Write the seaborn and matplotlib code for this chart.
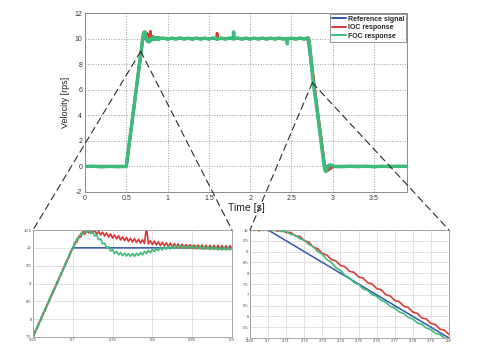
import numpy as np
import pandas as pd
import matplotlib
matplotlib.use("Agg")
import matplotlib.pyplot as plt
from matplotlib.patches import ConnectionPatch
from matplotlib.ticker import FuncFormatter, MultipleLocator
import seaborn as sns

# ---------------------------------------------------------------- data
# Velocity reference profile (rps)
ref_time = [0.0, 0.5, 0.7, 2.7, 2.9, 3.9]
ref_vel = [0.0, 0.0, 10.0, 10.0, 0.0, 0.0]

# Standstill and start of acceleration
pre_time = [0.0, 0.1, 0.2, 0.3, 0.4, 0.5, 0.55, 0.6]
ioc_pre = [0.01, -0.02, 0.03, -0.01, 0.02, 0.0, 2.45, 4.95]
foc_pre = [0.0, 0.02, -0.03, 0.01, -0.02, 0.0, 2.52, 5.02]

# End of acceleration and overshoot, sampled every 2.5 ms from 0.65 s
rise_t0, rise_dt = 0.65, 0.0025
ioc_rise = [7.47, 7.66, 7.73, 7.91, 7.98, 8.16, 8.23, 8.41, 8.48, 8.66, 8.73,
            8.91, 8.98, 9.16, 9.23, 9.41, 9.48, 9.66, 9.73, 9.91, 9.98,
            10.15, 10.15, 10.33, 10.30, 10.45, 10.38, 10.50, 10.42, 10.52, 10.41,
            10.50, 10.38, 10.47, 10.36, 10.44, 10.33, 10.42, 10.30, 10.39, 10.27,
            10.36, 10.25, 10.34, 10.22, 10.31, 10.20, 10.29, 10.18, 10.27, 10.16,
            10.26, 10.15, 10.24, 10.13, 10.23, 10.12, 10.58, 10.11, 10.20, 10.09,
            10.19, 10.08, 10.17, 10.06, 10.16, 10.05, 10.14, 10.03, 10.13, 10.02,
            10.12, 10.01, 10.11, 10.00, 10.10, 10.00, 10.09, 9.99, 10.09, 9.99,
            10.08, 9.98, 10.08, 9.98, 10.08, 9.97, 10.07, 9.97, 10.07, 9.97,
            10.07, 9.97, 10.07, 9.96, 10.06, 9.96, 10.06, 9.96, 10.06, 9.98]
foc_rise = [7.53, 7.60, 7.80, 7.85, 8.05, 8.10, 8.30, 8.35, 8.55, 8.60, 8.80,
            8.85, 9.05, 9.10, 9.30, 9.35, 9.55, 9.60, 9.80, 9.85, 10.03,
            10.08, 10.26, 10.26, 10.41, 10.38, 10.49, 10.43, 10.50, 10.40, 10.45,
            10.33, 10.36, 10.23, 10.25, 10.11, 10.13, 10.00, 10.03, 9.91, 9.95,
            9.84, 9.90, 9.80, 9.87, 9.78, 9.85, 9.77, 9.84, 9.76, 9.84,
            9.76, 9.85, 9.78, 9.87, 9.80, 9.90, 9.84, 9.93, 9.86, 9.96,
            9.89, 9.98, 9.92, 10.01, 9.94, 10.03, 9.96, 10.04, 9.97, 10.06,
            9.98, 10.07, 9.99, 10.07, 9.99, 10.07, 9.98, 10.06, 9.98, 10.06,
            9.97, 10.05, 9.97, 10.04, 9.96, 10.04, 9.96, 10.03, 9.95, 10.03,
            9.95, 10.02, 9.94, 10.02, 9.94, 10.02, 9.94, 10.02, 9.94, 10.00]

# Constant-speed plateau
plateau_time = [0.95, 1.0, 1.05, 1.1, 1.15, 1.2, 1.25, 1.3, 1.35, 1.4, 1.45,
                1.5, 1.55, 1.595, 1.6, 1.605, 1.65, 1.7, 1.75, 1.795, 1.8,
                1.805, 1.85, 1.9, 1.95, 2.0, 2.05, 2.1, 2.15, 2.2, 2.25,
                2.3, 2.35, 2.4, 2.445, 2.45, 2.455, 2.5, 2.55, 2.6, 2.65]
ioc_plateau = [10.02, 9.98, 10.03, 9.97, 10.02, 9.98, 10.03, 9.97, 10.02, 9.98, 10.03,
               9.97, 10.02, 10.0, 10.42, 10.0, 10.02, 9.98, 10.03, 9.99, 10.02,
               9.98, 10.03, 9.97, 10.02, 9.98, 10.03, 9.97, 10.02, 9.98, 10.03,
               9.97, 10.02, 9.98, 10.01, 9.99, 10.0, 10.03, 9.97, 10.02, 9.98]
foc_plateau = [10.05, 9.94, 10.04, 9.95, 10.06, 9.96, 10.03, 9.94, 10.05, 9.95, 10.04,
               9.96, 10.05, 9.97, 10.02, 9.96, 10.04, 9.95, 10.05, 9.98, 10.52,
               9.99, 10.04, 9.95, 10.05, 9.94, 10.04, 9.96, 10.05, 9.95, 10.04,
               9.96, 10.05, 9.95, 10.0, 9.6, 9.98, 10.04, 9.95, 10.05, 9.96]

# Start of deceleration, sampled every 2.5 ms from 2.69 s
fall_t0, fall_dt = 2.69, 0.0025
ioc_fall = [9.96, 10.04, 9.96, 10.04, 9.97, 10.03, 9.95, 10.00, 9.88, 9.89,
            9.73, 9.70, 9.51, 9.44, 9.21, 9.13, 8.91, 8.84, 8.63, 8.57,
            8.36, 8.30, 8.09, 8.04, 7.83, 7.77, 7.56, 7.50, 7.29, 7.23,
            7.01, 6.95, 6.74, 6.68, 6.47, 6.41, 6.20, 6.14, 5.93, 5.88,
            5.67, 5.62, 5.41, 5.36, 5.16]
foc_fall = [10.03, 9.98, 10.03, 9.98, 10.02, 9.97, 10.02, 9.93, 9.93, 9.80,
            9.76, 9.60, 9.53, 9.33, 9.23, 9.00, 8.88, 8.63, 8.50, 8.26,
            8.13, 7.90, 7.78, 7.57, 7.48, 7.28, 7.20, 7.01, 6.93, 6.74,
            6.66, 6.47, 6.39, 6.21, 6.13, 5.95, 5.88, 5.70, 5.63, 5.46,
            5.39, 5.22, 5.16, 4.99, 4.96]

# End of deceleration, undershoot and standstill
post_time = [2.82, 2.84, 2.86, 2.88, 2.90, 2.91, 2.92, 2.93, 2.94, 2.95, 2.97,
             3.0, 3.03, 3.1, 3.2, 3.3, 3.4, 3.5, 3.6, 3.7, 3.8, 3.9]
ioc_post = [4.2, 3.2, 2.2, 1.2, 0.25, -0.1, -0.25, -0.3, -0.3, -0.28, -0.18,
            -0.05, 0.0, 0.02, -0.01, 0.02, -0.02, 0.01, -0.01, 0.02, -0.01, 0.0]
foc_post = [3.92, 2.9, 1.92, 0.9, -0.1, -0.35, -0.4, -0.25, -0.05, 0.08, 0.12,
            0.05, 0.0, -0.02, 0.02, -0.01, 0.02, -0.02, 0.01, -0.01, 0.02, 0.0]

labels = ["Reference signal", "IOC response", "FOC response"]
colors = {"Reference signal": "#3556b0", "IOC response": "#db3a34",
          "FOC response": "#3dbb7a"}

# ------------------------------------------------------- assemble frames
rise_time = rise_t0 + rise_dt * np.arange(len(ioc_rise))
fall_time = fall_t0 + fall_dt * np.arange(len(ioc_fall))
resp_time = np.concatenate([pre_time, rise_time, plateau_time, fall_time, post_time])
ioc_vel = np.concatenate([ioc_pre, ioc_rise, ioc_plateau, ioc_fall, ioc_post])
foc_vel = np.concatenate([foc_pre, foc_rise, foc_plateau, foc_fall, foc_post])

df = pd.concat([
    pd.DataFrame({"Time": ref_time, "Velocity": ref_vel, "Signal": labels[0]}),
    pd.DataFrame({"Time": resp_time, "Velocity": ioc_vel, "Signal": labels[1]}),
    pd.DataFrame({"Time": resp_time, "Velocity": foc_vel, "Signal": labels[2]}),
], ignore_index=True)

# ---------------------------------------------------------------- style
sns.set_style("white")
plt.rcParams["font.family"] = ["Liberation Sans", "DejaVu Sans"]

W, H = 485, 350
fig = plt.figure(figsize=(W / 100, H / 100), dpi=100)
fig.patch.set_facecolor("white")


def box(x0, y0, x1, y1):
    return [x0 / W, 1 - y1 / H, (x1 - x0) / W, (y1 - y0) / H]


ax = fig.add_axes(box(85, 13, 407, 192))
ax_l = fig.add_axes(box(33, 230, 232, 337))
ax_r = fig.add_axes(box(250, 230, 449, 338))

fmt = FuncFormatter(lambda v, p: f"{v:g}")


def draw(a, widths):
    for lab in labels:
        sub = df[df["Signal"] == lab]
        sns.lineplot(data=sub, x="Time", y="Velocity", ax=a, color=colors[lab],
                     lw=widths[lab], estimator=None, sort=False, label=lab)


# main axes
draw(ax, {"Reference signal": 2.0, "IOC response": 2.0, "FOC response": 2.5})
ax.set_xlim(0, 3.9)
ax.set_ylim(-2, 12)
ax.xaxis.set_major_locator(MultipleLocator(0.5))
ax.yaxis.set_major_locator(MultipleLocator(2))
ax.xaxis.set_major_formatter(fmt)
ax.yaxis.set_major_formatter(fmt)
ax.grid(True, ls=":", lw=0.7, color="#9a9a9a")
ax.tick_params(direction="in", length=2.5, width=0.6, labelsize=5,
               colors="#333333", pad=2)
ax.set_xlabel("Time [s]", fontsize=7.5, labelpad=1, color="#222222")
ax.set_ylabel("Velocity [rps]", fontsize=6.5, labelpad=3, color="#222222")
for s in ax.spines.values():
    s.set_color("#8a8a8a")
    s.set_linewidth(0.7)
leg = ax.legend(loc="upper right", prop=dict(weight="bold", size=5),
                frameon=True, fancybox=False, edgecolor="#666666",
                handlelength=2.0, borderaxespad=0.1, labelspacing=0.2,
                handletextpad=0.3, borderpad=0.3)
leg.get_frame().set_linewidth(0.6)
for ln in leg.get_lines():
    ln.set_linewidth(1.4)

# zoomed axes
insets = [(ax_l, (0.65, 0.9), (7.5, 10.5), 0.05, 0.5),
          (ax_r, (2.69, 2.8), (5, 10), 0.01, 0.5)]
for a, xl, yl, xs, ys in insets:
    draw(a, {"Reference signal": 1.1, "IOC response": 1.2, "FOC response": 1.2})
    a.set_xlim(*xl)
    a.set_ylim(*yl)
    a.xaxis.set_major_locator(MultipleLocator(xs))
    a.yaxis.set_major_locator(MultipleLocator(ys))
    a.xaxis.set_major_formatter(fmt)
    a.yaxis.set_major_formatter(fmt)
    a.grid(True, ls="-", lw=0.5, color="#d4d4d4")
    a.tick_params(direction="in", length=1.5, width=0.4, labelsize=3,
                  colors="#444444", pad=1)
    a.set_xlabel("")
    a.set_ylabel("")
    a.legend().remove()
    for s in a.spines.values():
        s.set_color("#9a9a9a")
        s.set_linewidth(0.6)

# dashed zoom guides from the main trace to the top corners of each inset
anchors = [(ax_l, (0.675, 9.0)), (ax_r, (2.753, 6.55))]
for a, pt in anchors:
    for corner in [(0, 1), (1, 1)]:
        con = ConnectionPatch(xyA=pt, coordsA=ax.transData, xyB=corner,
                              coordsB=a.transAxes, color="#2a2a2a", lw=0.8,
                              linestyle=(0, (6, 4)), zorder=10)
        fig.add_artist(con)

fig.savefig("out.png", dpi=100, facecolor="white")
